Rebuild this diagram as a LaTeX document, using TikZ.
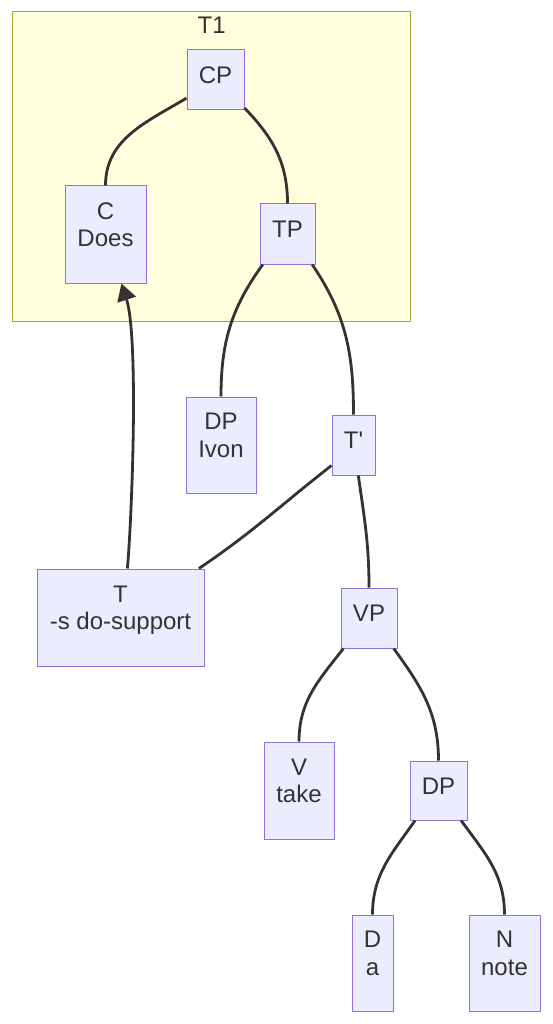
\documentclass[tikz,border=0pt]{standalone}
\usepackage{fontspec}
\setmainfont{Liberation Sans}
\usepackage{tikz}
\usetikzlibrary{arrows.meta}

\definecolor{boxfill}{HTML}{ECECFF}
\definecolor{boxline}{HTML}{9370DB}
\definecolor{grpfill}{HTML}{FFFFDE}
\definecolor{grpline}{HTML}{AAAA33}
\definecolor{ink}{HTML}{333333}

\tikzset{
  box/.style={draw=boxline, fill=boxfill, line width=1pt, inner sep=0pt, text=ink,
    font=\fontsize{24}{27.5}\selectfont},
  oneline/.style={box, text height=18pt, text depth=11pt},
  twoline/.style={box, align=center, text height=45pt, text depth=21pt},
  branch/.style={draw=ink, line width=2.8pt},
  moved/.style={branch, -{Triangle[length=17pt,width=19pt]}}
}

\begin{document}
\begin{tikzpicture}[x=1pt,y=1pt]
	\useasboundingbox (0,0) rectangle (552,-1024);
	% subgraph T1
	\draw[draw=grpline, fill=grpfill, line width=1pt] (12,-12) rectangle (410,-321);
	\node[anchor=base, text=ink, font=\fontsize{24}{27.5}\selectfont] (t1) at (211.7,-34) {T1};

	\node[oneline, minimum width=57, minimum height=60] (cp) at (215.5,-80) {CP};
	\node[twoline, minimum width=81, minimum height=97] (c) at (105.5,-234.5) {C\\Does};
	\node[oneline, minimum width=55, minimum height=60] (tp) at (287.5,-234) {TP};
	\node[twoline, minimum width=70, minimum height=96] (ivon) at (221,-445) {DP\\Ivon};
	\node[oneline, minimum width=43, minimum height=60] (tbar) at (353.5,-445) {T\textquotesingle};
	\node[twoline, minimum width=167, minimum height=97] (t) at (120.5,-617.5) {T\\-s do-support};
	\node[oneline, minimum width=56, minimum height=60] (vp) at (369,-618) {VP};
	\node[twoline, minimum width=70, minimum height=97] (v) at (299,-790.5) {V\\take};
	\node[oneline, minimum width=57, minimum height=59] (dp) at (438.5,-790.5) {DP};
	\node[twoline, minimum width=41, minimum height=96] (d) at (372.5,-963) {D\\a};
	\node[twoline, minimum width=71, minimum height=96] (n) at (504.5,-963) {N\\note};

	% tree
	\draw[branch] (cp.212) to[out=211,in=90] (c.north);
	\draw[branch] (cp.-44) to[out=-46,in=90] (tp.north);
	\draw[branch] (tp.231) to[out=234,in=90] (ivon.north);
	\draw[branch] (tp.-51) to[out=-56,in=90] (tbar.north);
	\draw[branch] (tbar.223) to[out=218,in=34] (t.32);
	\draw[branch] (tbar.-81) to[out=-82,in=90] (vp.north);
	\draw[branch] (vp.230) to[out=232,in=90] (v.north);
	\draw[branch] (vp.-51) to[out=-54,in=90] (dp.north);
	\draw[branch] (dp.232) to[out=235,in=90] (d.north);
	\draw[branch] (dp.-53) to[out=-54,in=90] (n.north);

	% movement
	\draw[moved] (t.82) to[out=85,in=-72,looseness=0.5] (c.-72);
\end{tikzpicture}
\end{document}
